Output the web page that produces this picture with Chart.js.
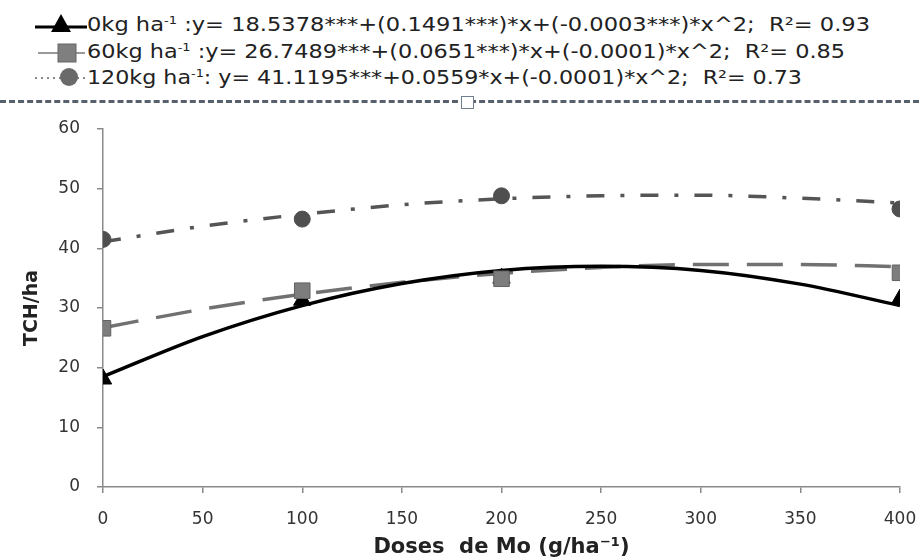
<!DOCTYPE html>
<html>
<head>
<meta charset="utf-8">
<script src="https://cdn.jsdelivr.net/npm/chart.js@4/dist/chart.umd.min.js"></script>
<style>
  html, body { margin: 0; padding: 0; background: #fff; }
  #page { position: relative; width: 919px; height: 560px; overflow: hidden; }
  .row { position: absolute; left: 30px; height: 26px; white-space: nowrap;
         font-family: "DejaVu Sans", sans-serif; font-size: 19px; color: #222; }
  .row svg { position: absolute; left: 0; top: 0; }
  .row .txt { position: absolute; left: 57px; top: 1px; transform-origin: 0 50%; }
  .row sup { font-size: 11px; vertical-align: 7px; line-height: 0; }
  #sep { position: absolute; left: 0; top: 100px; width: 919px; border-top: 3px dashed #56616c; }
  #handle { position: absolute; left: 461px; top: 96px; width: 11px; height: 11px;
            background: #fff; border: 1.5px solid #6f7f90; }
  #wrap { position: absolute; left: 0; top: 110px; width: 919px; height: 450px; }
</style>
</head>
<body>
<div id="page">
  <div class="row" id="row0" style="top:12px">
    <svg width="60" height="26"><line x1="5" y1="15" x2="57" y2="15" stroke="#000" stroke-width="3"/><polygon points="31,2 41,20 21,20" fill="#000"/></svg>
    <span class="txt" data-w="783">0kg ha<sup>-1</sup> :y= 18.5378***+(0.1491***)*x+(-0.0003***)*x^2;&nbsp; R²= 0.93</span>
  </div>
  <div class="row" id="row1" style="top:39px">
    <svg width="60" height="26"><line x1="8" y1="14" x2="55" y2="14" stroke="#777" stroke-width="1.5"/><rect x="28" y="5" width="18" height="18" fill="#7f7f7f" stroke="#666" stroke-width="1"/></svg>
    <span class="txt" data-w="758">60kg ha<sup>-1</sup> :y= 26.7489***+(0.0651***)*x+(-0.0001)*x^2;&nbsp; R²= 0.85</span>
  </div>
  <div class="row" id="row2" style="top:65px">
    <svg width="60" height="26"><line x1="5" y1="13" x2="59" y2="13" stroke="#888" stroke-width="2" stroke-dasharray="2,4"/><circle cx="39" cy="12" r="9" fill="#6a6a6a"/></svg>
    <span class="txt" data-w="715">120kg ha<sup>-1</sup>: y= 41.1195***+0.0559*x+(-0.0001)*x^2;&nbsp; R²= 0.73</span>
  </div>
  <div id="sep"></div>
  <div id="handle"></div>
  <div id="wrap"><canvas id="chart"></canvas></div>
</div>
<script>
// Valeurs
const doses = [0, 100, 200, 400];
const obs0 = [18.1, 31.3, 35.0, 31.5];
const obs60 = [26.6, 32.9, 34.9, 35.9];
const obs120 = [41.5, 44.9, 48.8, 46.6];

// Courbes d'ajustement lues tous les 50 g/ha
const fitX = [0, 50, 100, 150, 200, 250, 300, 350, 400];
const fit0 = [18.5, 25.2, 30.4, 34.1, 36.3, 37.0, 36.3, 34.0, 30.4];
const fit60 = [26.7, 29.8, 32.3, 34.3, 35.8, 36.8, 37.3, 37.3, 36.9];
const fit120 = [41.1, 43.7, 45.7, 47.3, 48.3, 48.8, 48.9, 48.4, 47.6];

const xTicks = [0, 50, 100, 150, 200, 250, 300, 350, 400];
const yTicks = [0, 10, 20, 30, 40, 50, 60];

// ajuste la largeur des lignes de légende
document.querySelectorAll('.txt').forEach(el => {
    const target = parseFloat(el.getAttribute('data-w'));
    const w = el.getBoundingClientRect().width;
    el.style.transform = 'scaleX(' + (target / w) + ')';
});

const pts = (xs, ys) => xs.map((x, i) => ({ x: x, y: ys[i] }));

const axisGrey = '#8a8a8a';

new Chart(document.getElementById('chart'), {
    type: 'scatter',
    data: {
        datasets: [
            { type: 'line', data: pts(fitX, fit120), borderColor: '#555', borderWidth: 3.5,
              borderDash: [18, 16, 4, 16], pointRadius: 0, cubicInterpolationMode: 'monotone', order: 5 },
            { type: 'line', data: pts(fitX, fit60), borderColor: '#717171', borderWidth: 3.5,
              borderDash: [36, 18], pointRadius: 0, cubicInterpolationMode: 'monotone', order: 4 },
            { type: 'line', data: pts(fitX, fit0), borderColor: '#000', borderWidth: 3.5,
              pointRadius: 0, cubicInterpolationMode: 'monotone', order: 3 },
            { data: pts(doses, obs0), pointStyle: 'triangle', pointRadius: 10,
              backgroundColor: '#000', borderColor: '#000', order: 2 },
            { data: pts(doses, obs60), pointStyle: 'rect', pointRadius: 11,
              backgroundColor: '#7d7d7d', borderColor: '#626262', borderWidth: 1, order: 1 },
            { data: pts(doses, obs120), pointStyle: 'circle', pointRadius: 8,
              backgroundColor: '#4f4f4f', borderColor: '#4f4f4f', order: 0 }
        ]
    },
    options: {
        responsive: true,
        maintainAspectRatio: false,
        animation: false,
        layout: { padding: { top: 19, right: 19, left: 0, bottom: 0 } },
        plugins: { legend: { display: false }, tooltip: { enabled: false } },
        scales: {
            x: {
                type: 'linear', min: 0, max: 400,
                afterBuildTicks: s => { s.ticks = xTicks.map(v => ({ value: v })); },
                afterFit: s => { s.height = 73; s.paddingLeft = 0; s.paddingRight = 0; },
                grid: { drawOnChartArea: false, drawTicks: true, tickLength: 6, color: axisGrey, lineWidth: 1.5 },
                border: { display: true, color: axisGrey, width: 1.5 },
                ticks: { color: '#333', padding: 16, maxRotation: 0, font: { family: 'DejaVu Sans', size: 17 } },
                title: { display: true, text: 'Doses  de Mo (g/ha⁻¹)', color: '#222',
                         padding: { top: 0, bottom: 0 }, font: { family: 'DejaVu Sans', size: 21, weight: 'bold' } }
            },
            y: {
                min: 0, max: 60,
                afterBuildTicks: s => { s.ticks = yTicks.map(v => ({ value: v })); },
                afterFit: s => { s.width = 103; s.paddingTop = 0; s.paddingBottom = 0; },
                grid: { drawOnChartArea: false, drawTicks: true, tickLength: 6, color: axisGrey, lineWidth: 1.5 },
                border: { display: true, color: axisGrey, width: 1.5 },
                ticks: { color: '#333', padding: 17, font: { family: 'DejaVu Sans', size: 17 } },
                title: { display: true, text: 'TCH/ha', color: '#222',
                         padding: { top: 21, bottom: 0 }, font: { family: 'DejaVu Sans', size: 19, weight: 'bold' } }
            }
        }
    }
});
</script>
</body>
</html>
